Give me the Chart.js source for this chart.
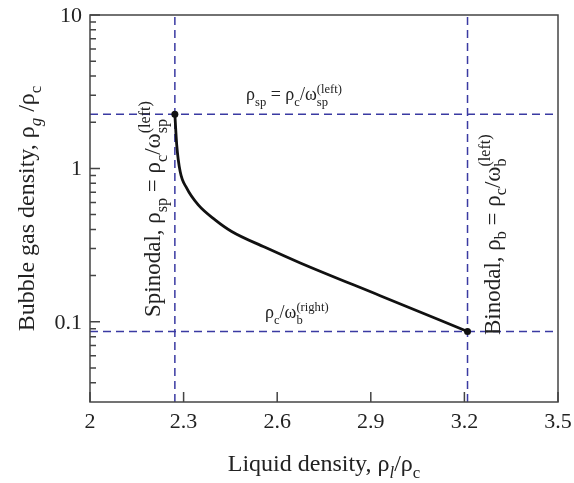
<!DOCTYPE html>
<html>
<head>
<meta charset="utf-8">
<script src="https://cdn.jsdelivr.net/npm/chart.js@4.4.0/dist/chart.umd.min.js"></script>
<style>
  html, body { margin: 0; padding: 0; background: #fff; }
</style>
</head>
<body>
<canvas id="c" width="574" height="483"></canvas>
<script>
// bubble curve
var curveX = [2.272, 2.278, 2.289, 2.310, 2.347, 2.401, 2.454, 2.561, 2.674, 2.930, 3.210];
var curveY = [2.25, 1.42, 0.953, 0.743, 0.578, 0.462, 0.388, 0.306, 0.242, 0.148, 0.0865];

// spinodal / binodal guide lines
var spinodalX = 2.272, binodalX = 3.21;
var spinodalY = 2.25, binodalY = 0.0865;

// axes
var xMin = 2, xMax = 3.5, yMin = 0.03, yMax = 10;
var xTicks = [2, 2.3, 2.6, 2.9, 3.2, 3.5];
var yMajor = [0.1, 1, 10];
var yMinor = [0.04, 0.05, 0.06, 0.07, 0.08, 0.09, 0.2, 0.3, 0.4, 0.5, 0.6, 0.7, 0.8, 0.9, 2, 3, 4, 5, 6, 7, 8, 9];

var FAM = '"Liberation Serif", "Times New Roman", serif';
var TXT = '#222';
var BLUE = '#3a3aa2';

function fnt(size, italic) {
  return (italic ? 'italic ' : '') + size + 'px ' + FAM;
}

// lay out a run of text with subscripts / superscripts
function pieces(ctx, runs, size) {
  var list = [], w = 0, sm = size * 0.7;
  runs.forEach(function (r) {
    var k = r[1];
    if (k === 'stack') {
      ctx.font = fnt(sm, false);
      var a = ctx.measureText(r[0]).width, b = ctx.measureText(r[2]).width;
      list.push({ t: r[0], x: w, dy: size * 0.3, f: fnt(sm, false) });
      list.push({ t: r[2], x: w, dy: -size * 0.42, f: fnt(sm, false) });
      w += Math.max(a, b);
    } else {
      var it = (k === 'i' || k === 'isub');
      var s = (k === 'n' || k === 'i') ? size : sm;
      var dy = (k === 'sub' || k === 'isub') ? size * 0.3 : (k === 'sup' ? -size * 0.42 : 0);
      ctx.font = fnt(s, it);
      list.push({ t: r[0], x: w, dy: dy, f: fnt(s, it) });
      w += ctx.measureText(r[0]).width;
    }
  });
  return { list: list, w: w };
}

function drawRich(ctx, runs, x, y, size, align, rot) {
  ctx.save();
  ctx.translate(x, y);
  if (rot) ctx.rotate(rot);
  var p = pieces(ctx, runs, size);
  var x0 = align === 'center' ? -p.w / 2 : 0;
  ctx.textBaseline = 'alphabetic';
  ctx.textAlign = 'left';
  ctx.fillStyle = TXT;
  p.list.forEach(function (q) {
    ctx.font = q.f;
    ctx.fillText(q.t, x0 + q.x, q.dy);
  });
  ctx.restore();
}

var curveData = curveX.map(function (x, i) { return { x: x, y: curveY[i] }; });
var endDots = curveX.map(function (x, i) { return (i === 0 || i === curveX.length - 1) ? 3.5 : 0; });

var frame = {
  id: 'frame',
  afterDatasetsDraw: function (chart) {
    var ctx = chart.ctx, a = chart.chartArea;
    var xs = chart.scales.x, ys = chart.scales.y;
    ctx.save();
    ctx.strokeStyle = '#444';
    ctx.lineWidth = 1.5;
    ctx.strokeRect(a.left, a.top, a.right - a.left, a.bottom - a.top);
    ctx.beginPath();
    xTicks.forEach(function (v) {
      var px = xs.getPixelForValue(v);
      ctx.moveTo(px, a.bottom);
      ctx.lineTo(px, a.bottom - 10);
    });
    yMajor.forEach(function (v) {
      var py = ys.getPixelForValue(v);
      ctx.moveTo(a.left, py);
      ctx.lineTo(a.left + 10, py);
    });
    yMinor.forEach(function (v) {
      var py = ys.getPixelForValue(v);
      ctx.moveTo(a.left, py);
      ctx.lineTo(a.left + 6, py);
    });
    ctx.stroke();

    // tick labels
    ctx.fillStyle = TXT;
    ctx.font = fnt(22, false);
    ctx.textBaseline = 'alphabetic';
    ctx.textAlign = 'center';
    xTicks.forEach(function (v) {
      ctx.fillText(String(v), xs.getPixelForValue(v), a.bottom + 26);
    });
    ctx.textAlign = 'right';
    yMajor.forEach(function (v) {
      ctx.fillText(String(v), a.left - 8, ys.getPixelForValue(v) + 7);
    });
    ctx.restore();
  },
  afterDraw: function (chart) {
    var ctx = chart.ctx, a = chart.chartArea;
    var xs = chart.scales.x, ys = chart.scales.y;
    // axis titles
    drawRich(ctx, [['Liquid density, ρ', 'n'], ['l', 'isub'], ['/ρ', 'n'], ['c', 'sub']],
      (a.left + a.right) / 2, 471, 24, 'center');
    drawRich(ctx, [['Bubble gas density, ρ', 'n'], ['g', 'isub'], [' /ρ', 'n'], ['c', 'sub']],
      34, (a.top + a.bottom) / 2, 24, 'center', -Math.PI / 2);
    // annotations
    drawRich(ctx, [['ρ', 'n'], ['sp', 'sub'], [' = ρ', 'n'], ['c', 'sub'], ['/ω', 'n'], ['sp', 'stack', '(left)']],
      246, ys.getPixelForValue(spinodalY) - 14, 18, 'left');
    drawRich(ctx, [['ρ', 'n'], ['c', 'sub'], ['/ω', 'n'], ['b', 'stack', '(right)']],
      265, ys.getPixelForValue(binodalY) - 13, 18, 'left');
    drawRich(ctx, [['Spinodal, ρ', 'n'], ['sp', 'sub'], [' = ρ', 'n'], ['c', 'sub'], ['/ω', 'n'], ['sp', 'stack', '(left)']],
      xs.getPixelForValue(spinodalX) - 15, 317, 23, 'left', -Math.PI / 2);
    drawRich(ctx, [['Binodal, ρ', 'n'], ['b', 'sub'], [' = ρ', 'n'], ['c', 'sub'], ['/ω', 'n'], ['b', 'stack', '(left)']],
      xs.getPixelForValue(binodalX) + 32, 335, 23, 'left', -Math.PI / 2);
  }
};

var ctx = document.getElementById('c').getContext('2d');
new Chart(ctx, {
  type: 'line',
  data: {
    datasets: [
      {
        data: curveData,
        borderColor: '#111',
        borderWidth: 2.8,
        pointRadius: endDots,
        pointBackgroundColor: '#111',
        pointBorderWidth: 0,
        cubicInterpolationMode: 'monotone'
      },
      {
        data: [{ x: spinodalX, y: yMin }, { x: spinodalX, y: yMax }],
        borderColor: BLUE, borderWidth: 1.5, borderDash: [8, 5], pointRadius: 0
      },
      {
        data: [{ x: binodalX, y: yMin }, { x: binodalX, y: yMax }],
        borderColor: BLUE, borderWidth: 1.5, borderDash: [8, 5], pointRadius: 0
      },
      {
        data: [{ x: xMin, y: spinodalY }, { x: xMax, y: spinodalY }],
        borderColor: BLUE, borderWidth: 1.5, borderDash: [8, 5], pointRadius: 0
      },
      {
        data: [{ x: xMin, y: binodalY }, { x: xMax, y: binodalY }],
        borderColor: BLUE, borderWidth: 1.5, borderDash: [8, 5], pointRadius: 0
      }
    ]
  },
  options: {
    responsive: false,
    animation: false,
    layout: { padding: { top: 15, right: 16, left: 0, bottom: 0 } },
    plugins: { legend: { display: false }, tooltip: { enabled: false } },
    scales: {
      x: {
        type: 'linear', min: xMin, max: xMax,
        afterBuildTicks: function (s) { s.ticks = xTicks.map(function (v) { return { value: v }; }); },
        afterFit: function (s) { s.height = 81; },
        grid: { display: false, drawTicks: false },
        border: { display: false },
        ticks: { display: false }
      },
      y: {
        type: 'logarithmic', min: yMin, max: yMax,
        afterBuildTicks: function (s) { s.ticks = yMajor.map(function (v) { return { value: v }; }); },
        afterFit: function (s) { s.width = 90; },
        grid: { display: false, drawTicks: false },
        border: { display: false },
        ticks: { display: false }
      }
    }
  },
  plugins: [frame]
});
</script>
</body>
</html>
